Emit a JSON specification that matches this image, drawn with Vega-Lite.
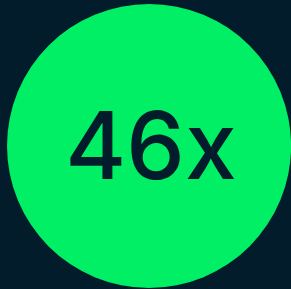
{
  "$schema": "https://vega.github.io/schema/vega-lite/v6.json",
  "width": 291,
  "height": 289,
  "padding": 0,
  "autosize": {"type": "fit", "contains": "padding"},
  "background": "#021c2b",
  "config": {"view": {"stroke": null}},
  "data": {"values": [{"x": 0.514, "y": 0.495, "label": "46x"}]},
  "encoding": {
    "x": {"field": "x", "type": "quantitative", "scale": {"domain": [0, 1]}, "axis": null},
    "y": {"field": "y", "type": "quantitative", "scale": {"domain": [0, 1]}, "axis": null}
  },
  "layer": [
    {"mark": {"type": "point", "filled": true, "shape": "circle", "size": 80700, "color": "#00ef64", "opacity": 1}},
    {"mark": {"type": "text", "font": "Inter", "fontSize": 93, "fontWeight": 500, "color": "#021c2b", "baseline": "middle", "align": "center", "dx": 2, "dy": 5}, "encoding": {"text": {"field": "label"}}}
  ]
}
